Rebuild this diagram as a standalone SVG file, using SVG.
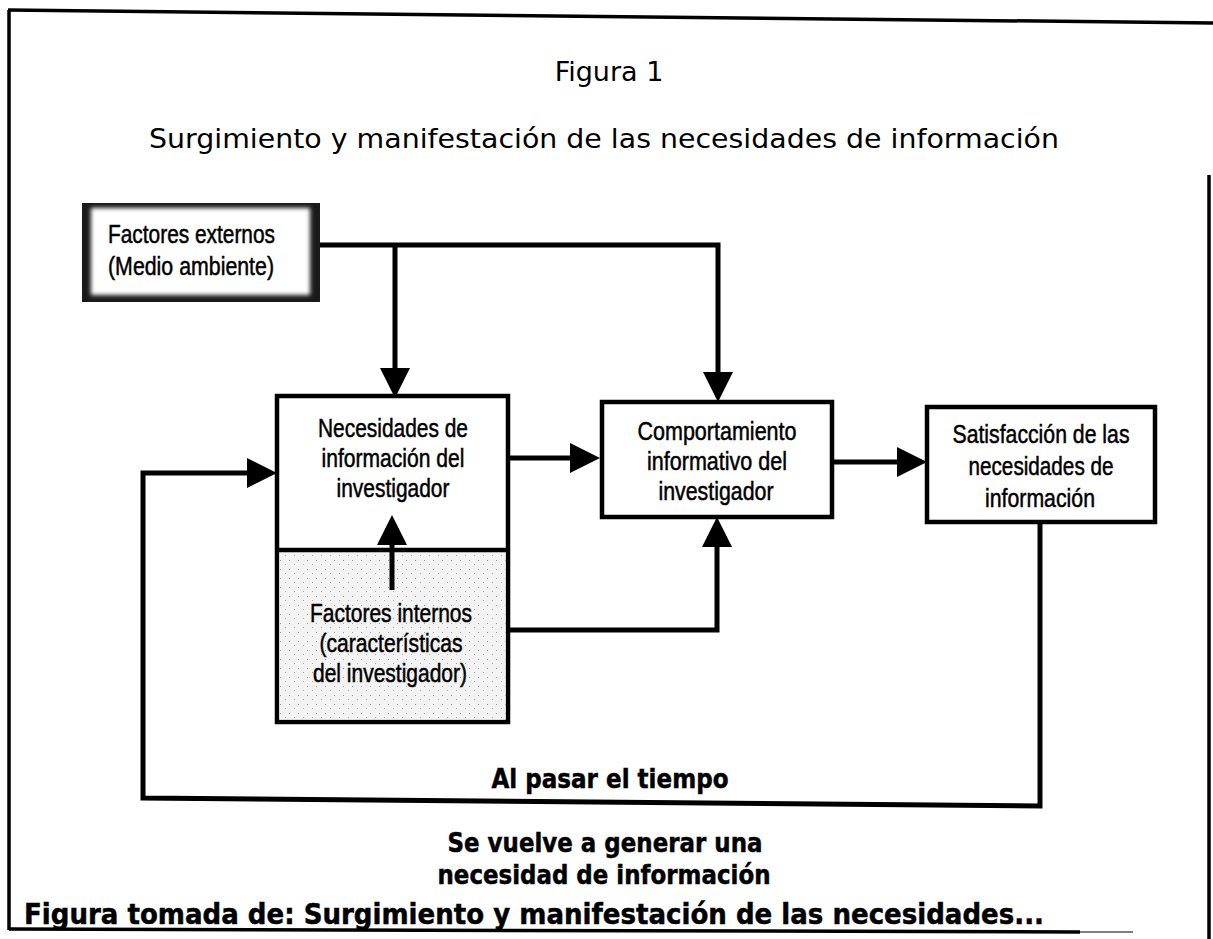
<svg xmlns="http://www.w3.org/2000/svg" width="1213" height="939" viewBox="0 0 1213 939">
<defs>
<style>
.ln{fill:none;stroke:#000;stroke-width:5;stroke-linejoin:miter}
.box{fill:#fff;stroke:#000;stroke-width:4.5}
.fr{fill:none;stroke:#000;stroke-width:3.5}
.t{font-family:"Liberation Sans",Arial,sans-serif;font-size:26px;fill:#000;stroke:#000;stroke-width:0.5;text-anchor:middle}
.h{font-family:"DejaVu Sans",Verdana,sans-serif;fill:#000;text-anchor:middle}
.b{font-family:"DejaVu Sans",Verdana,sans-serif;font-weight:bold;fill:#000;stroke:#000;stroke-width:0.5;text-anchor:middle}
</style>
<marker id="ah" markerUnits="userSpaceOnUse" markerWidth="30" markerHeight="30" refX="15" refY="15" orient="auto" viewBox="0 0 30 30"><path d="M0,0 L30,15 L0,30 z" fill="#000"/></marker>
<pattern id="stip" width="9" height="9" patternUnits="userSpaceOnUse"><rect width="9" height="9" fill="#f3f3f3"/><rect x="1" y="2" width="1" height="1" fill="#999"/><rect x="6" y="6" width="1" height="1" fill="#aaa"/></pattern>
<filter id="soft" x="-10%" y="-10%" width="120%" height="120%"><feGaussianBlur stdDeviation="2"/></filter>
</defs>
<rect width="1213" height="939" fill="#fff"/>
<g id="frame">
<path class="fr" d="M8,10 L1213,23" stroke-width="4"/>
<path class="fr" d="M9,10 V930"/>
<path class="fr" d="M9,929 L1080,932"/>
<path d="M1080,932 H1133" stroke="#555" stroke-width="1.5"/>
<path class="fr" d="M1209,175 V939"/>
</g>
<g id="titles">
<text class="h" x="609" y="81" font-size="27">Figura 1</text>
<text class="h" x="604" y="148" font-size="27" textLength="910" lengthAdjust="spacingAndGlyphs">Surgimiento y manifestación de las necesidades de información</text>
</g>
<g id="connectors">
<path class="ln" d="M320,245 H718 V387" marker-end="url(#ah)"/>
<path class="ln" d="M395,245 V383" marker-end="url(#ah)"/>
<path class="ln" d="M508,458 H585" marker-end="url(#ah)"/>
<path class="ln" d="M832,462 H912" marker-end="url(#ah)"/>
<path class="ln" d="M508,630 H717 V532" marker-end="url(#ah)"/>
<path class="ln" d="M1040,522 V806 L143,798 V473 H262" marker-end="url(#ah)"/>
</g>
<g id="factores-externos">
<rect x="82" y="203" width="238" height="99" fill="#1a1a1a"/>
<rect x="91" y="208" width="219" height="87" fill="#fff" filter="url(#soft)"/>
<text class="t" x="108" y="243" style="text-anchor:start" textLength="167" lengthAdjust="spacingAndGlyphs">Factores externos</text>
<text class="t" x="108" y="275" style="text-anchor:start" textLength="166" lengthAdjust="spacingAndGlyphs">(Medio ambiente)</text>
</g>
<g id="necesidades">
<rect class="box" x="277" y="396" width="231" height="326"/>
<rect x="279.5" y="552" width="226" height="167.5" fill="url(#stip)"/>
<path d="M277,550 H508" stroke="#000" stroke-width="4.5"/>
<text class="t" x="393" y="437" textLength="150" lengthAdjust="spacingAndGlyphs">Necesidades de</text>
<text class="t" x="393" y="467" textLength="143" lengthAdjust="spacingAndGlyphs">información del</text>
<text class="t" x="393" y="497" textLength="113" lengthAdjust="spacingAndGlyphs">investigador</text>
</g>
<g id="factores-internos">
<text class="t" x="391" y="622" textLength="162" lengthAdjust="spacingAndGlyphs">Factores internos</text>
<text class="t" x="391" y="652" textLength="143" lengthAdjust="spacingAndGlyphs">(características</text>
<text class="t" x="390" y="682" textLength="154" lengthAdjust="spacingAndGlyphs">del investigador)</text>
<path class="ln" d="M392,590 V530" marker-end="url(#ah)"/>
</g>
<g id="comportamiento">
<rect class="box" x="602" y="402" width="230" height="115"/>
<text class="t" x="717" y="440" textLength="159" lengthAdjust="spacingAndGlyphs">Comportamiento</text>
<text class="t" x="717" y="470" textLength="140" lengthAdjust="spacingAndGlyphs">informativo del</text>
<text class="t" x="716" y="500" textLength="115" lengthAdjust="spacingAndGlyphs">investigador</text>
</g>
<g id="satisfaccion">
<rect class="box" x="927" y="407" width="228" height="115"/>
<text class="t" x="1041" y="443" textLength="177" lengthAdjust="spacingAndGlyphs">Satisfacción de las</text>
<text class="t" x="1041" y="475" textLength="145" lengthAdjust="spacingAndGlyphs">necesidades de</text>
<text class="t" x="1040" y="507" textLength="110" lengthAdjust="spacingAndGlyphs">información</text>
</g>
<g id="labels">
<text class="b" x="610" y="788" font-size="27" textLength="237" lengthAdjust="spacingAndGlyphs">Al pasar el tiempo</text>
<text class="b" x="605" y="852" font-size="27" textLength="315" lengthAdjust="spacingAndGlyphs">Se vuelve a generar una</text>
<text class="b" x="604" y="884" font-size="27" textLength="333" lengthAdjust="spacingAndGlyphs">necesidad de información</text>
<text class="b" x="24" y="924" font-size="28" style="text-anchor:start" textLength="1020" lengthAdjust="spacingAndGlyphs">Figura tomada de: Surgimiento y manifestación de las necesidades...</text>
</g>
</svg>
